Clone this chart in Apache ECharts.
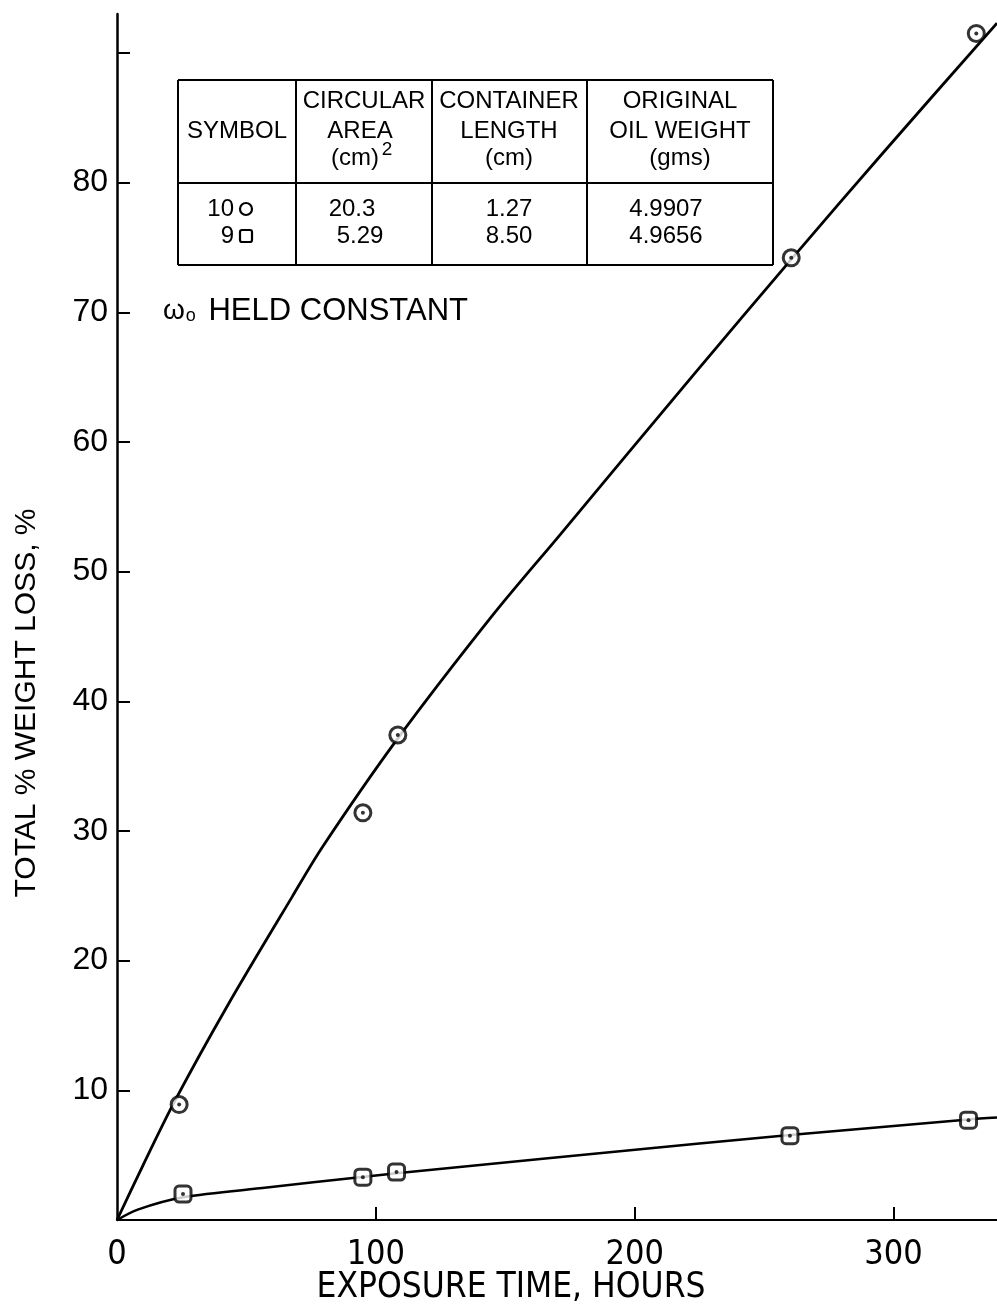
<!DOCTYPE html>
<html>
<head>
<meta charset="utf-8">
<script src="https://cdn.jsdelivr.net/npm/echarts@6/dist/echarts.min.js"></script>
<style>
  html, body { margin: 0; padding: 0; background: #fff; }
  #chart { width: 997px; height: 1308px; }
</style>
</head>
<body>
<div id="chart"></div>
<script>
// measured points, sample 10 (circles) and sample 9 (squares)
const sample10Hours = [24, 95, 108.5, 260.5, 332];
const sample10Loss = [8.9, 31.4, 37.4, 74.2, 91.5];
const sample9Hours = [25.5, 95, 108, 260, 329];
const sample9Loss = [2.0, 3.3, 3.7, 6.5, 7.7];

// hand-drawn fitted curves
const curve10Hours = [0, 10, 22.4, 42.9, 67.6, 79.5, 108, 145, 171, 222, 261, 296, 340];
const curve10Loss = [0, 4.2, 9.2, 16.6, 24.9, 28.8, 37.0, 46.6, 52.8, 65.0, 74.2, 82.3, 92.3];
const curve9Hours = [0, 8, 25.5, 57.9, 93.8, 108, 225, 260, 329, 340];
const curve9Loss = [0, 0.8, 1.75, 2.5, 3.3, 3.6, 5.9, 6.55, 7.75, 7.9];

const xTicks = [100, 200, 300];
const xLabels = [0, 100, 200, 300];
const yTicks = [10, 20, 30, 40, 50, 60, 70, 80, 90];
const yLabels = [10, 20, 30, 40, 50, 60, 70, 80];

function pairs(xs, ys) {
  return xs.map((x, i) => [x, ys[i]]);
}

const chart = echarts.init(document.getElementById('chart'), null, { renderer: 'canvas' });

const font = 'Liberation Sans, Arial, sans-serif';
const narrow = 'Liberation Sans Narrow, DejaVu Sans Condensed, sans-serif';

// table drawn as graphic elements
const T = { l: 178, r: 773, t: 80, b: 265, sep: 183, cols: [296, 432, 587] };
const tableLines = [
  [T.l, T.t, T.r, T.t], [T.l, T.b, T.r, T.b], [T.l, T.t, T.l, T.b], [T.r, T.t, T.r, T.b],
  [T.l, T.sep, T.r, T.sep]
].concat(T.cols.map(c => [c, T.t, c, T.b]));

function txt(s, x, y, size, align, family) {
  return {
    type: 'text', x: x, y: y,
    style: {
      text: s, fill: '#000', font: size + 'px ' + (family || font),
      textAlign: align || 'center', textVerticalAlign: 'middle'
    }
  };
}

const graphics = tableLines.map(p => ({
  type: 'line',
  shape: { x1: p[0], y1: p[1], x2: p[2], y2: p[3] },
  style: { stroke: '#000', lineWidth: 2 }
}));

[
  ['SYMBOL', 237, 131],
  ['CIRCULAR', 364, 101], ['AREA', 360, 131], ['(cm)', 355, 158],
  ['CONTAINER', 509, 101], ['LENGTH', 509, 131], ['(cm)', 509, 158],
  ['ORIGINAL', 680, 101], ['OIL WEIGHT', 680, 131], ['(gms)', 680, 158],
  ['20.3', 352, 209], ['5.29', 360, 236],
  ['1.27', 509, 209], ['8.50', 509, 236],
  ['4.9907', 666, 209], ['4.9656', 666, 236]
].forEach(d => graphics.push(txt(d[0], d[1], d[2], 24)));
graphics.push(txt('2', 387, 150, 19));
graphics.push(txt('10', 234, 209, 24, 'right'));
graphics.push(txt('9', 234, 236, 24, 'right'));
graphics.push({ type: 'circle', shape: { cx: 246, cy: 209, r: 6 }, style: { fill: 'none', stroke: '#000', lineWidth: 2.2 } });
graphics.push({ type: 'rect', shape: { x: 240, y: 230, width: 12, height: 12, r: 2 }, style: { fill: 'none', stroke: '#000', lineWidth: 2.2 } });

// note and axis titles
graphics.push({
  type: 'text', x: 163, y: 311,
  style: {
    text: '{w|ω}{o|o} HELD CONSTANT',
    font: '31px ' + font, fill: '#000', textVerticalAlign: 'middle',
    rich: {
      w: { font: '28px ' + font, fill: '#000' },
      o: { font: '18px ' + font, fill: '#000', padding: [10, 4, 0, 1] }
    }
  }
});
graphics.push(txt('EXPOSURE TIME, HOURS', 511, 1288, 35, 'center', narrow));
graphics.push({
  type: 'text', x: 27, y: 703, rotation: Math.PI / 2,
  style: { text: 'TOTAL % WEIGHT LOSS, %', fill: '#000', font: '30px ' + font, textAlign: 'center', textVerticalAlign: 'middle' }
});

const ring = { color: '#fff', borderColor: '#000', borderWidth: 3 };

const option = {
  backgroundColor: '#fff',
  animation: false,
  grid: { left: 117, right: 0, top: 14, bottom: 88 },
  xAxis: {
    type: 'value', min: 0, max: 340,
    axisLine: { lineStyle: { color: '#000', width: 2 } },
    axisTick: { inside: true, length: 13, customValues: xTicks, lineStyle: { color: '#000', width: 2 } },
    axisLabel: { customValues: xLabels, margin: 18, color: '#000', fontSize: 34, fontFamily: narrow },
    splitLine: { show: false }
  },
  yAxis: {
    type: 'value', min: 0, max: 93,
    axisLine: { show: true, lineStyle: { color: '#000', width: 2.5 } },
    axisTick: { show: true, inside: true, length: 13, customValues: yTicks, lineStyle: { color: '#000', width: 2 } },
    axisLabel: { customValues: yLabels, margin: 9, color: '#000', fontSize: 32, fontFamily: font },
    splitLine: { show: false }
  },
  series: [
    {
      type: 'line', data: pairs(curve10Hours, curve10Loss), smooth: 0.3,
      showSymbol: false, lineStyle: { color: '#000', width: 2.8 }, z: 2
    },
    {
      type: 'line', data: pairs(curve9Hours, curve9Loss), smooth: 0.3,
      showSymbol: false, lineStyle: { color: '#000', width: 2.5 }, z: 2
    },
    { type: 'scatter', data: pairs(sample10Hours, sample10Loss), symbol: 'circle', symbolSize: 16, itemStyle: ring, z: 3 },
    { type: 'scatter', data: pairs(sample9Hours, sample9Loss), symbol: 'roundRect', symbolSize: 16, itemStyle: ring, z: 3 },
    { type: 'scatter', data: pairs(sample10Hours, sample10Loss).concat(pairs(sample9Hours, sample9Loss)), symbol: 'circle', symbolSize: 4, itemStyle: { color: '#000' }, z: 4 }
  ],
  graphic: graphics
};

chart.setOption(option);
</script>
</body>
</html>
